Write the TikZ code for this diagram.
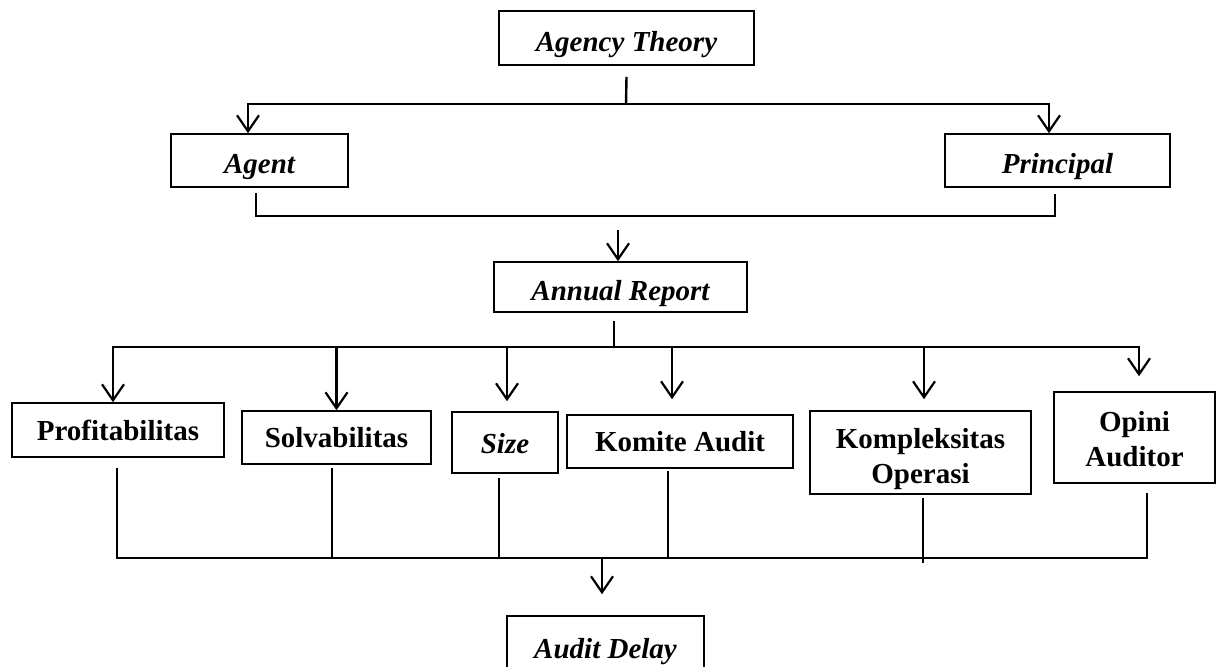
\documentclass[tikz,border=0pt]{standalone}
\usepackage{fontspec}
\setmainfont{Liberation Serif}
\usetikzlibrary{arrows.meta,positioning,calc}

\tikzset{
  box/.style={draw, line width=0.8pt, inner sep=0pt, align=center,
    font=\fontsize{14.5}{17.5}\selectfont\bfseries},
  ibox/.style={box, text height=13pt, text depth=0pt,
    font=\fontsize{14.5}{17.5}\selectfont\bfseries\itshape},
  link/.style={line width=1.2pt},
  arr/.style={link, -{Straight Barb[length=8pt,width=11pt,line width=1.1pt]}}
}

\begin{document}
\begin{tikzpicture}[x=0.5pt, y=-0.5pt]
  \useasboundingbox (0,0) rectangle (1218,666);
  % top level
  \node[ibox, minimum width=127.5pt, minimum height=27pt] (at) at (626.5,38) {Agency Theory};
  \node[ibox, minimum width=88.5pt, minimum height=26.5pt] (ag) at (259.5,160.5) {Agent};
  \node[ibox, minimum width=112.5pt, minimum height=26.5pt] (pr) at (1057.5,160.5) {Principal};
  \node[ibox, minimum width=126.5pt, minimum height=25pt] (ar) at (620.5,287) {Annual Report};
  % variables
  \node[box, minimum width=106pt, minimum height=27pt] (pf) at (118,430) {Profitabilitas};
  \node[box, minimum width=94.5pt, minimum height=26.5pt] (sv) at (336.5,437.5) {Solvabilitas};
  \node[ibox, text height=11pt, minimum width=53pt, minimum height=30.5pt] (sz) at (505,442.5) {Size};
  \node[box, minimum width=113pt, minimum height=26.5pt] (ka) at (680,441.5) {Komite Audit};
  \node[box, minimum width=110.5pt, minimum height=41.5pt] (ko) at (920.5,452.5) {\rule{0pt}{17pt}Kompleksitas\\Operasi};
  \node[box, minimum width=80.5pt, minimum height=45.5pt] (op) at (1134.5,437.5) {\rule{0pt}{11.5pt}Opini\\Auditor};
  \node[ibox, minimum width=98.5pt, minimum height=29pt] (ad) at (605.5,645) {Audit Delay};
  % bus points
  \coordinate (b1) at (626,104);
  \coordinate (b2) at (618,216);
  \coordinate (b3) at (614,347);
  \coordinate (b4) at (602,558);
  % agency theory -> agent, principal
  \draw[link] ([yshift=-5.5pt]at.south) -- (b1);
  \draw[arr] (b1) -| ([xshift=-5.75pt]ag.north);
  \draw[arr] (b1) -| ([xshift=-4.25pt]pr.north);
  % agent, principal -> annual report
  \draw[link] ([xshift=-1.75pt,yshift=-2.5pt]ag.south) |- (b2) -| ([xshift=-1.25pt,yshift=-3pt]pr.south);
  \draw[arr] ([yshift=-7pt]b2) -- (ar.north -| b2);
  % annual report -> variables
  \draw[link] ([xshift=-3.25pt,yshift=-4pt]ar.south) -- (b3);
  \draw[arr] (b3) -| ([xshift=-2.5pt]pf.north);
  \draw[arr, shorten >=7.5pt] (b3) -| ([xshift=2.25pt]op.north);
  \draw[arr] (sv.north |- b3) -- (sv.north);
  \draw[arr, shorten >=5pt] ([xshift=1pt]sz.north |- b3) -- ([xshift=1pt]sz.north);
  \draw[arr, shorten >=7.5pt] ([xshift=-4pt]ka.north |- b3) -- ([xshift=-4pt]ka.north);
  \draw[arr, shorten >=5.5pt] ([xshift=1.75pt]ko.north |- b3) -- ([xshift=1.75pt]ko.north);
  % variables -> audit delay
  \draw[link] ([xshift=-0.5pt,yshift=-5pt]pf.south) |- (b4) -| ([xshift=6.25pt,yshift=-4.5pt]op.south);
  \draw[link] ([xshift=-2.25pt,yshift=-1.5pt]sv.south) -- ([xshift=-2.25pt]sv.south |- b4);
  \draw[link] ([xshift=-3pt,yshift=-2pt]sz.south) -- ([xshift=-3pt]sz.south |- b4);
  \draw[link] ([xshift=-6pt,yshift=-1pt]ka.south) -- ([xshift=-6pt]ka.south |- b4);
  \draw[link] ([xshift=1.25pt,yshift=-1.5pt]ko.south) -- ([xshift=1.25pt,yshift=-2.5pt]ko.south |- b4);
  \draw[arr, shorten >=10.5pt] (b4) -- (ad.north -| b4);
\end{tikzpicture}
\end{document}
